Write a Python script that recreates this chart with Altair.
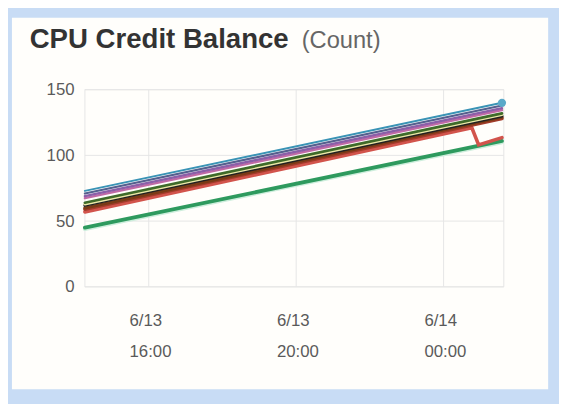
import altair as alt
import pandas as pd

# ---- data ----
t_start = "2018-06-13T14:16:00"
t_end = "2018-06-14T01:35:00"
t_axis_end = "2018-06-14T01:38:00"

series = ["lightgreen", "green", "red", "darkred", "brown", "black", "yellow",
          "olive", "pink", "purple", "slate", "teal"]
start_vals = [44, 45, 57, 59, 60, 62, 63, 64, 67.5, 69, 71, 73]
end_vals = [110, 111, 113.5, 128, 129, 130, 131, 132, 134.5, 136, 138, 140]
colors = ["#cdeedc", "#2e9a5e", "#d2544c", "#a23b2a", "#7a3b16", "#222222", "#ece8a8",
          "#3f6b2a", "#c06aa6", "#8b5fa8", "#55608f", "#3a93b5"]
widths = [4, 2, 2, 3, 3.5, 2, 2, 2.5, 4, 5, 6, 5]

red_times = [t_start, "2018-06-14T00:46:00", "2018-06-14T00:57:00", t_end]
red_vals = [57, 121, 108, 113.5]

y_ticks = [0, 50, 100, 150]
x_tick_times = ["2018-06-13T16:00:00", "2018-06-13T20:00:00", "2018-06-14T00:00:00"]
x_ticks = [
    alt.DateTime(year=2018, month=6, date=13, hours=16),
    alt.DateTime(year=2018, month=6, date=13, hours=20),
    alt.DateTime(year=2018, month=6, date=14, hours=0),
]

rows = []
for s, a, b in zip(series, start_vals, end_vals):
    if s == "red":
        for t, v in zip(red_times, red_vals):
            rows.append({"s": s, "t": t, "v": v})
    else:
        rows.append({"s": s, "t": t_start, "v": a})
        rows.append({"s": s, "t": t_end, "v": b})
df = pd.DataFrame(rows)
end_df = pd.DataFrame({"t": [t_end], "v": [end_vals[-1]]})

W, H = 425, 200
GRID = "#e6e6e6"

x_scale = alt.Scale(domain=[t_start, t_axis_end])
y_scale = alt.Scale(domain=[0, 150], nice=False)

x_axis = alt.Axis(
    values=x_ticks,
    labelExpr="[timeFormat(datum.value, '%-m/%d'), timeFormat(datum.value, '%H:%M')]",
    title=None, domain=False, ticks=False, grid=False, zindex=1,
    labelColor="#5a5a5a", labelFontSize=17, labelFont="Liberation Sans",
    labelLineHeight=32, labelPadding=26, labelAlign="left", labelOffset=-20,
)
y_axis = alt.Axis(
    values=y_ticks, title=None, domain=False, ticks=False, grid=False, zindex=1,
    labelColor="#5a5a5a", labelFontSize=17, labelFont="Liberation Sans",
    labelPadding=11,
)

one = pd.DataFrame({"a": [0]})

panel = alt.Chart(one).mark_rect(color="#fffefb").encode(
    x=alt.value(-74), x2=alt.value(470), y=alt.value(-73), y2=alt.value(304)
)

hgrid = alt.Chart(pd.DataFrame({"v": y_ticks})).mark_rule(color=GRID, strokeWidth=1).encode(
    y=alt.Y("v:Q", scale=y_scale, axis=y_axis)
)
vgrid = alt.Chart(pd.DataFrame({"t": x_tick_times})).mark_rule(color=GRID, strokeWidth=1).encode(
    x=alt.X("t:T", scale=x_scale, axis=x_axis)
)
frame = alt.Chart(one).mark_rect(fill=None, stroke=GRID, strokeWidth=1).encode(
    x=alt.value(0), x2=alt.value(W), y=alt.value(0), y2=alt.value(H)
)

lines = alt.Chart(df).mark_line(strokeCap="round").encode(
    x=alt.X("t:T", scale=x_scale, axis=x_axis),
    y=alt.Y("v:Q", scale=y_scale, axis=y_axis),
    color=alt.Color("s:N", scale=alt.Scale(domain=series, range=colors), legend=None),
    strokeWidth=alt.StrokeWidth("s:N", scale=alt.Scale(domain=series, range=widths), legend=None),
    detail="s:N",
)

dot = alt.Chart(end_df).mark_point(
    filled=True, size=70, color="#5aa9c9", opacity=1
).encode(x=alt.X("t:T", scale=x_scale), y=alt.Y("v:Q", scale=y_scale))

title1 = alt.Chart(one).mark_text(
    text="CPU Credit Balance", align="left", baseline="alphabetic",
    fontSize=28, fontWeight="bold", font="Liberation Sans", color="#333333"
).encode(x=alt.value(-56), y=alt.value(-42))

title2 = alt.Chart(one).mark_text(
    text="(Count)", align="left", baseline="alphabetic",
    fontSize=24, font="Liberation Sans", color="#666666"
).encode(x=alt.value(220), y=alt.value(-42))

chart = alt.layer(panel, hgrid, vgrid, frame, lines, dot, title1, title2).properties(
    width=W, height=H,
    background="#c8dcf5",
    padding={"left": 78, "top": 80, "right": 56, "bottom": 116},
    autosize=alt.AutoSizeParams(type="none"),
).configure_view(stroke=None)

chart.save("out.html", embed_options={"renderer": "svg", "actions": False})
